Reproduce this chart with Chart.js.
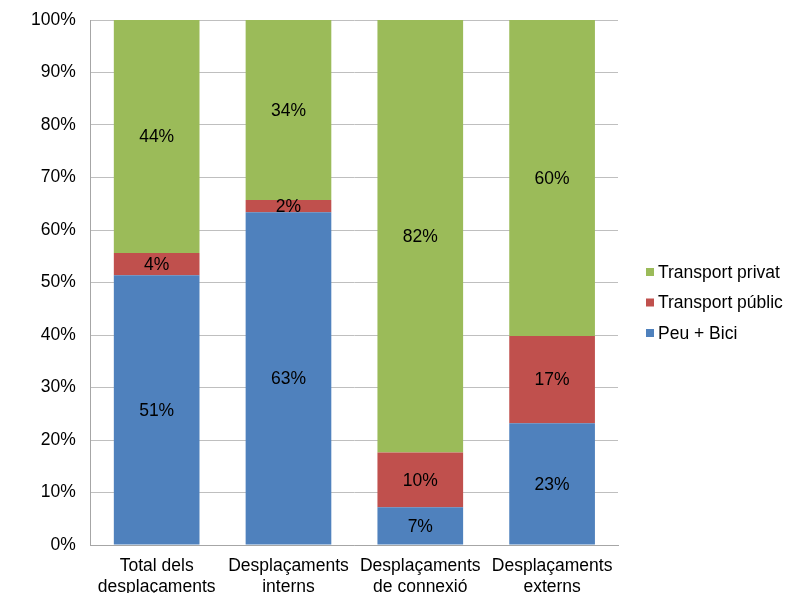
<!DOCTYPE html>
<html>
<head>
<meta charset="utf-8">
<script src="https://cdn.jsdelivr.net/npm/chart.js@4"></script>
<style>
    html, body { margin: 0; padding: 0; background: #fff; }
    #wrap { width: 785px; height: 593px; }
</style>
</head>
<body>
<div id="wrap"><canvas id="chart" width="785" height="593"></canvas></div>
<script>
// Repartiment modal per tipus de desplaçament
const categories = [
    ['Total dels', 'desplaçaments'],
    ['Desplaçaments', 'interns'],
    ['Desplaçaments', 'de connexió'],
    ['Desplaçaments', 'externs'],
];
const peuBici = [51.4, 63.4, 7.2, 23.2];
const transportPublic = [4.2, 2.3, 10.4, 16.6];
const transportPrivat = [44.4, 34.3, 82.4, 60.2];
const yTicks = [0, 10, 20, 30, 40, 50, 60, 70, 80, 90, 100];

const FONT = '"Liberation Sans", Arial, sans-serif';
const SIZE = 17.5;

// Etiquetes de valor al centre de cada segment
const valueLabels = {
    id: 'valueLabels',
    afterDatasetsDraw(chart) {
        const ctx = chart.ctx;
        ctx.save();
        ctx.font = SIZE + 'px ' + FONT;
        ctx.fillStyle = '#000';
        ctx.textAlign = 'center';
        ctx.textBaseline = 'middle';
        chart.data.datasets.forEach((ds, i) => {
            chart.getDatasetMeta(i).data.forEach((bar, j) => {
                const y = (bar.y + bar.base) / 2;
                ctx.fillText(Math.round(ds.data[j]) + '%', bar.x, y + 1);
            });
        });
        ctx.restore();
    }
};

// Llegenda a la dreta, ordre invers
const sideLegend = {
    id: 'sideLegend',
    afterDraw(chart) {
        const ctx = chart.ctx;
        const items = chart.data.datasets.slice().reverse();
        const x = chart.chartArea.right + 28;
        let y = 272;
        ctx.save();
        ctx.font = SIZE + 'px ' + FONT;
        ctx.textBaseline = 'middle';
        ctx.textAlign = 'left';
        items.forEach(ds => {
            ctx.fillStyle = ds.backgroundColor;
            ctx.fillRect(x, y - 4, 8, 8);
            ctx.fillStyle = '#000';
            ctx.fillText(ds.label, x + 12, y + 1);
            y += 30.5;
        });
        ctx.restore();
    }
};

new Chart(document.getElementById('chart'), {
    type: 'bar',
    data: {
        labels: categories,
        datasets: [
            { label: 'Peu + Bici', data: peuBici, backgroundColor: '#4F81BD' },
            { label: 'Transport públic', data: transportPublic, backgroundColor: '#C0504D' },
            { label: 'Transport privat', data: transportPrivat, backgroundColor: '#9BBB59' },
        ]
    },
    options: {
        responsive: false,
        animation: false,
        categoryPercentage: 1,
        barPercentage: 0.65,
        layout: { padding: { top: 20, right: 167, left: 16, bottom: 0 } },
        plugins: {
            legend: { display: false },
            tooltip: { enabled: false },
        },
        scales: {
            x: {
                stacked: true,
                grid: { display: false, drawTicks: false },
                border: { color: '#a6a6a6', width: 1 },
                ticks: { color: '#000', padding: 11, font: { family: FONT, size: SIZE } },
                afterFit: scale => { scale.height = 48; }
            },
            y: {
                stacked: true,
                min: 0,
                max: 100,
                afterBuildTicks: axis => { axis.ticks = yTicks.map(v => ({ value: v })); },
                afterFit: scale => { scale.paddingTop = 0; scale.paddingBottom = 0; },
                grid: { color: '#bfbfbf', drawTicks: false },
                border: { color: '#a6a6a6', width: 1 },
                ticks: {
                    color: '#000',
                    padding: 15,
                    font: { family: FONT, size: SIZE },
                    callback: v => v + '%'
                }
            }
        }
    },
    plugins: [valueLabels, sideLegend]
});
</script>
</body>
</html>
